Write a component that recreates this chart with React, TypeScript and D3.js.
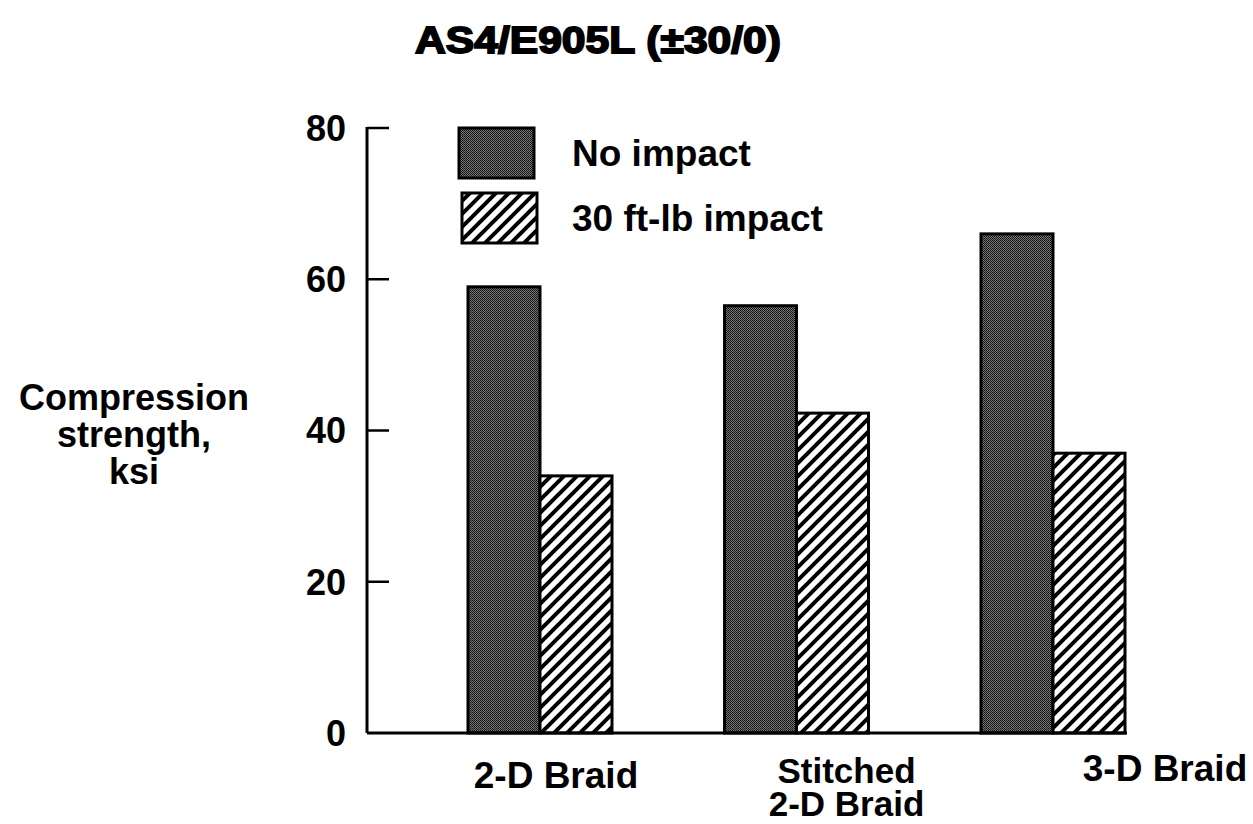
import React from "react";
import * as d3 from "d3";

const title = "AS4/E905L (±30/0)";
const categories = ["2-D Braid", "Stitched 2-D Braid", "3-D Braid"];
const categoryLines = [["2-D Braid"], ["Stitched", "2-D Braid"], ["3-D Braid"]];
const seriesNames = ["No impact", "30 ft-lb impact"];
const noImpact = [59, 56.5, 66];
const impact30 = [34, 42.3, 37];
const yTicks = [0, 20, 40, 60, 80];
const yTitle = ["Compression", "strength,", "ksi"];

const W = 1253;
const H = 824;
const FONT = "'Liberation Sans', Arial, Helvetica, sans-serif";

export default function App() {
  const y = d3.scaleLinear().domain([0, 80]).range([733, 128]);
  const x = d3.scalePoint<string>().domain(categories).range([540, 1053]);
  const barW = 72;
  const axisX = 367;
  const labelShift = [16, 50, 112];
  const labelY = [788, 783, 781];
  const labelSize = [37, 35, 37];

  return (
    <svg
      width={W}
      height={H}
      style={{ position: "absolute", left: 0, top: 0, background: "#fff" }}
      fontFamily={FONT}
      fontWeight="bold"
    >
      <defs>
        <pattern id="dark" patternUnits="userSpaceOnUse" width="2" height="2">
          <rect width="2" height="2" fill="#777" />
          <rect width="1" height="1" fill="#0d0d0d" />
          <rect x="1" y="1" width="1" height="1" fill="#1c1c1c" />
        </pattern>
        <pattern id="hatch" patternUnits="userSpaceOnUse" width="13" height="13">
          <rect width="13" height="13" fill="#fff" />
          <path d="M-2,2 L2,-2 M0,13 L13,0 M11,15 L15,11" stroke="#000" strokeWidth="4" />
        </pattern>
      </defs>

      <text x={598} y={53} textAnchor="middle" fontSize={37} stroke="#000" strokeWidth={1.8} textLength={366} lengthAdjust="spacingAndGlyphs">
        {title}
      </text>

      {/* Y axis title */}
      {yTitle.map((t, i) => (
        <text key={t} x={134} y={410 + i * 37} textAnchor="middle" fontSize={36}>
          {t}
        </text>
      ))}

      {/* Bars */}
      {categories.map((c, i) => {
        const cx = x(c)!;
        return (
          <g key={c}>
            <rect x={cx - barW} y={y(noImpact[i])} width={barW} height={y(0) - y(noImpact[i])} fill="url(#dark)" stroke="#000" strokeWidth={3} />
            <rect x={cx} y={y(impact30[i])} width={barW} height={y(0) - y(impact30[i])} fill="url(#hatch)" stroke="#000" strokeWidth={3} />
          </g>
        );
      })}

      {/* Axes */}
      <line x1={axisX} y1={y(80) - 1} x2={axisX} y2={y(0)} stroke="#000" strokeWidth={3} />
      <line x1={axisX} y1={y(0)} x2={x(categories[2])! + barW + 2} y2={y(0)} stroke="#000" strokeWidth={3} />
      {yTicks.map((t) => (
        <g key={t}>
          {t > 0 && <line x1={axisX} x2={axisX + 22} y1={y(t)} y2={y(t)} stroke="#000" strokeWidth={2.5} />}
          <text x={346} y={y(t)} dy="0.36em" textAnchor="end" fontSize={36}>
            {t}
          </text>
        </g>
      ))}

      {/* Category labels */}
      {categories.map((c, i) => (
        <text key={c} x={x(c)! + labelShift[i]} y={labelY[i]} textAnchor="middle" fontSize={labelSize[i]}>
          {categoryLines[i].map((ln, j) => (
            <tspan key={j} x={x(c)! + labelShift[i]} dy={j === 0 ? 0 : 33}>
              {ln}
            </tspan>
          ))}
        </text>
      ))}

      {/* Legend */}
      <rect x={459} y={128} width={75} height={50} fill="url(#dark)" stroke="#000" strokeWidth={3} />
      <rect x={462} y={193} width={75} height={50} fill="url(#hatch)" stroke="#000" strokeWidth={3} />
      <text x={572} y={166} fontSize={37}>{seriesNames[0]}</text>
      <text x={572} y={231} fontSize={37}>{seriesNames[1]}</text>
    </svg>
  );
}
